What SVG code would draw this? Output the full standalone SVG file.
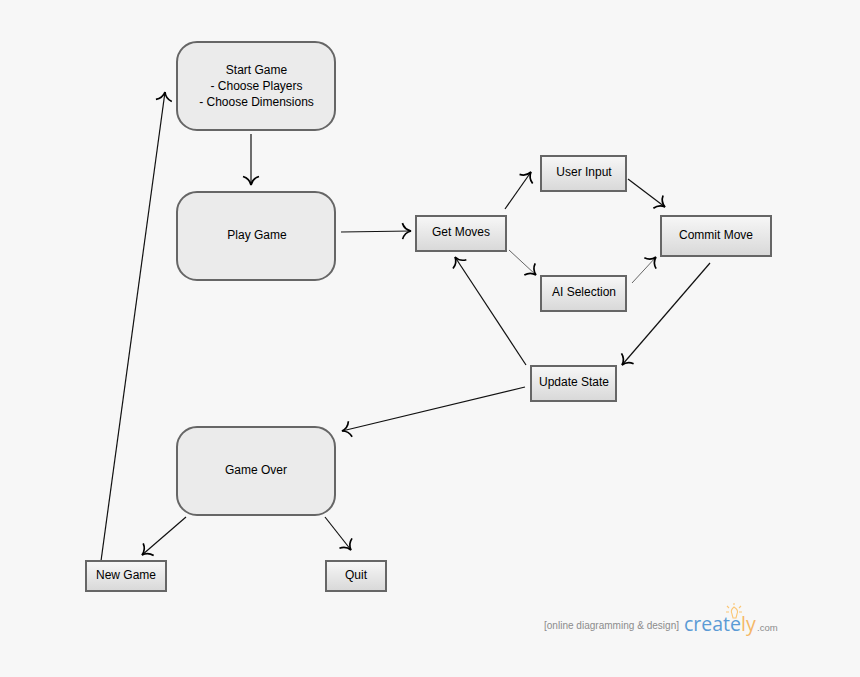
<svg xmlns="http://www.w3.org/2000/svg" width="860" height="677" viewBox="0 0 860 677">
<style>
text{font-family:"Liberation Sans",Arial,sans-serif;font-size:12px;fill:#000;text-anchor:middle}
.big{fill:#ebebeb;stroke:#666;stroke-width:2}
.box{fill:url(#g);stroke:#666;stroke-width:2}
.c{fill:none;stroke:#111;stroke-width:1.2;marker-end:url(#a)}
.t{stroke:#555;stroke-width:.9}
.tag{font-size:10.5px;fill:#8c8c8c;text-anchor:start}
.logo{font-family:"Open Sans",sans-serif;font-size:19.500px;fill:#5b9bd5;text-anchor:start}
.ray{stroke:#fbc777;stroke-width:1.1;fill:none}
</style>
<defs>
<linearGradient id="g" x1="0" y1="0" x2="0" y2="1"><stop offset="0" stop-color="#f7f7f7"/><stop offset="1" stop-color="#d8d8d8"/></linearGradient>
<marker id="a" markerUnits="userSpaceOnUse" viewBox="-11 -9 12 18" refX="0" refY="0" markerWidth="12" markerHeight="18" orient="auto">
<path d="M-8.5,-8 Q-6.5,-1.5 0,0 Q-6.5,1.5 -8.5,8" fill="none" stroke="#000" stroke-width="1.7"/>
</marker>
</defs>
<rect width="860" height="677" fill="#f7f7f7"/>
<g id="connectors">
<path class="c" d="M251,134V185"/>
<path class="c" d="M341,232L411,231"/>
<path class="c" d="M505,209L531,172"/>
<path class="c t" d="M509,250L536,275"/>
<path class="c" d="M628,179L665,207"/>
<path class="c t" d="M632,283L656,257"/>
<path class="c" d="M710,263L622,365"/>
<path class="c" d="M526,365L455,257"/>
<path class="c" d="M525,387L342,431"/>
<path class="c" d="M186,517L142,555"/>
<path class="c" d="M325,517L351,550"/>
<path class="c" d="M101,561L165,92"/>
</g>
<g id="start"><rect class="big" x="177" y="42" width="158" height="88" rx="20"/><text x="256.500" y="74">Start Game</text><text x="256.500" y="90">- Choose Players</text><text x="256.500" y="106">- Choose Dimensions</text></g>
<g id="play"><rect class="big" x="177" y="192" width="158" height="88" rx="20"/><text x="257" y="239">Play Game</text></g>
<g id="over"><rect class="big" x="177" y="427" width="158" height="88" rx="20"/><text x="256" y="474">Game Over</text></g>
<g id="get"><rect class="box" x="416" y="216" width="90" height="35"/><text x="461" y="236">Get Moves</text></g>
<g id="user"><rect class="box" x="541" y="156" width="85" height="35"/><text x="584" y="176">User Input</text></g>
<g id="ai"><rect class="box" x="541" y="276" width="85" height="35"/><text x="584" y="296">AI Selection</text></g>
<g id="commit"><rect class="box" x="661" y="216" width="110" height="40"/><text x="716" y="239">Commit Move</text></g>
<g id="update"><rect class="box" x="531" y="366" width="85" height="35"/><text x="574" y="386">Update State</text></g>
<g id="new"><rect class="box" x="86" y="561" width="80" height="30"/><text x="126" y="579">New Game</text></g>
<g id="quit"><rect class="box" x="326" y="561" width="60" height="30"/><text x="356" y="579">Quit</text></g>
<g id="logo">
<text class="tag" x="544" y="629" textLength="135" lengthAdjust="spacingAndGlyphs">[online diagramming &amp; design]</text>
<text class="logo" x="684" y="631">create<tspan fill="#f5b867">ly</tspan></text>
<text x="757" y="631" style="text-anchor:start;font-size:9.500px;fill:#8c8c8c">.com</text>
<path class="ray" d="M734,607Q730,610 732,614L733,618H736L737,614Q739,610 734,607ZM734,603V605M727,606L729,608M741,606L739,608M726,612H729M739,612H742"/>
</g>
</svg>
